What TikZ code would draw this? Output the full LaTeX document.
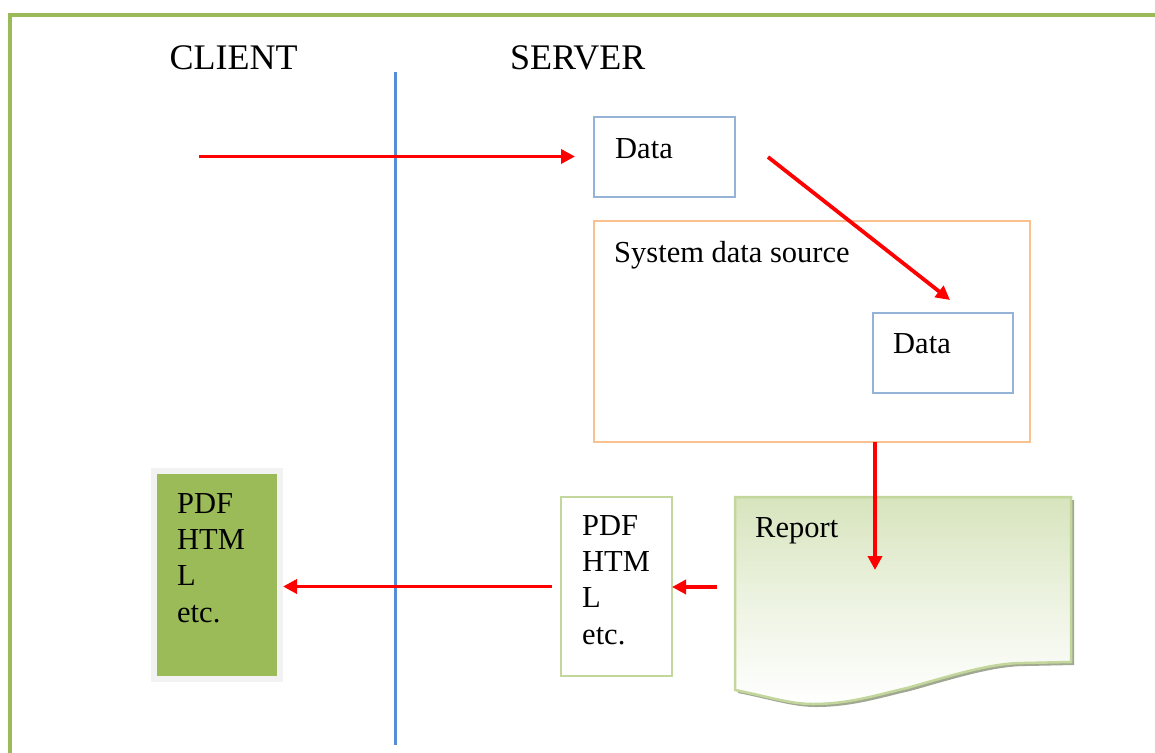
\documentclass[tikz,border=0pt]{standalone}
\usepackage{fontspec}
\setmainfont{Liberation Serif}
\usetikzlibrary{arrows.meta}

\definecolor{framegreen}{RGB}{155,187,89}
\definecolor{tierblue}{RGB}{85,142,213}
\definecolor{arrowred}{RGB}{255,0,0}
\definecolor{databorder}{RGB}{149,179,215}
\definecolor{srcborder}{RGB}{250,192,144}
\definecolor{docborder}{RGB}{195,214,155}
\definecolor{doctop}{RGB}{215,228,189}
\definecolor{docshadow}{RGB}{160,168,145}
\definecolor{outfill}{RGB}{155,187,89}
\definecolor{outframe}{RGB}{242,242,242}

\tikzset{
  body/.style={font=\fontsize{30.5}{36.4}\selectfont},
  title/.style={font=\fontsize{36}{42}\selectfont, inner sep=0pt, anchor=base west},
  txt/.style={body, inner sep=0pt, anchor=base west},
  box/.style={draw, line width=2pt, inner sep=0pt, outer sep=0pt},
  databox/.style={box, draw=databorder, minimum width=141pt, minimum height=80pt},
  flow/.style={draw=arrowred, line width=3.8pt,
    -{Triangle[length=14pt,width=14pt]}},
}

\newcommand{\fmtlist}{\begin{tabular}[t]{@{}l@{}}PDF\\HTM\\L\\etc.\end{tabular}}

\begin{document}
\begin{tikzpicture}[x=1pt, y=-1pt]
  \clip (0,0) rectangle (1155,752);
  \fill[white] (0,0) rectangle (1155,752);

  % page frame
  \draw[framegreen, line width=4pt] (9.5,770) -- (9.5,15) -- (1170,15);

  % tier separator and headings
  \draw[tierblue, line width=3pt] (395,72) -- (395,745);
  \node[title] (client) at (169.5,70) {CLIENT};
  \node[title] (server) at (510,70) {SERVER};

  % server side boxes
  \node[databox] (data1) at (664.5,157) {};
  \node[txt] (data1txt) at ([shift={(21,41)}]data1.north west) {Data};

  \node[box, draw=srcborder, minimum width=436pt, minimum height=221pt]
    (sds) at (812,331.5) {};
  \node[txt] (sdstxt) at ([shift={(20,41)}]sds.north west) {System data source};

  \node[databox, minimum width=140pt] (data2) at (943,353) {};
  \node[txt] (data2txt) at ([shift={(20,40)}]data2.north west) {Data};

  % report document shape with textured shadow
  \fill[docshadow, shift={(3,3)}]
    (735,497) -- (1071,497) -- (1071,662) -- (1023,663)
    .. controls (990,663) and (950,676) .. (907,688)
    .. controls (880,694) and (850,704) .. (813,704)
    .. controls (790,704) and (770,697) .. (735,690) -- cycle;
  \path[draw=docborder, line width=2.5pt, top color=doctop, bottom color=white,
        middle color=doctop!45!white]
    (735,497) -- (1071,497) -- (1071,662) -- (1023,663)
    .. controls (990,663) and (950,676) .. (907,688)
    .. controls (880,694) and (850,704) .. (813,704)
    .. controls (790,704) and (770,697) .. (735,690) -- cycle;
  \node[txt] (report) at (755,537) {Report};

  % rendered output on the server
  \node[box, draw=docborder, fill=white, minimum width=111pt, minimum height=179pt]
    (pdf) at (616.5,586.5) {};
  \node[txt] (pdftxt) at ([shift={(21,38)}]pdf.north west) {\fmtlist};

  % delivered output on the client
  \node[draw=outframe, line width=6pt, fill=outfill, inner sep=0pt, outer sep=3pt,
        minimum width=126pt, minimum height=208pt] (out) at (217,575) {};
  \node[txt] (outtxt) at ([shift={(26,45)}]out.north west) {\fmtlist};

  % request and response flow
  \coordinate (request) at (199,156.5);
  \coordinate (d1tail) at (768,157);
  \coordinate (d2head) at (950,300);
  \coordinate (repin) at (875,570);
  \coordinate (repout) at (717,587);

  \draw[flow, shorten >=19pt] (request) -- (request -| data1.west);
  \draw[flow] (d1tail) -- (d2head);
  \draw[flow] (sds.south -| repin) -- (repin);
  \draw[flow] (repout) -- (repout -| pdf.east);
  \draw[flow, shorten <=9.5pt] (pdf.west) -- (pdf.west -| out.east);
\end{tikzpicture}
\end{document}
